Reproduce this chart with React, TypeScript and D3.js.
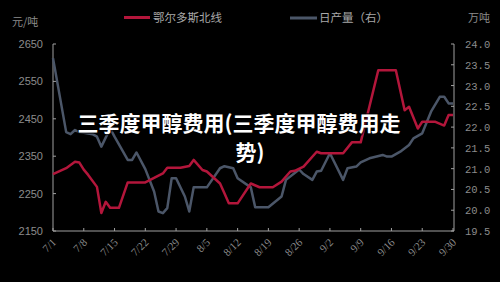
import React from "react";
import * as d3 from "d3";

// 鄂尔多斯北线 (元/吨) — key vertices of the daily series
const redDates = ["7/1","7/4","7/6","7/7","7/8","7/9","7/11","7/12","7/13","7/14","7/16","7/18","7/22","7/26","7/27","7/30","8/1","8/2","8/4","8/5","8/8","8/9","8/10","8/12","8/15","8/17","8/20","8/22","8/24","8/25","8/27","8/30","8/31","9/5","9/7","9/9","9/13","9/17","9/19","9/20","9/22","9/23","9/26","9/28","9/29","9/30"];
const redValues = [2302,2318,2335,2333,2314,2300,2268,2198,2228,2212,2212,2280,2280,2304,2319,2319,2324,2340,2313,2309,2277,2251,2224,2224,2277,2267,2267,2282,2309,2311,2322,2362,2358,2358,2387,2387,2580,2580,2473,2482,2424,2442,2442,2432,2460,2460];

// 日产量（右）(万吨)
const grayDates = ["7/1","7/4","7/5","7/6","7/7","7/10","7/11","7/12","7/14","7/15","7/18","7/19","7/20","7/22","7/24","7/25","7/26","7/27","7/28","7/29","7/31","8/1","8/2","8/5","8/8","8/9","8/11","8/12","8/15","8/16","8/19","8/22","8/23","8/26","8/27","8/29","8/30","8/31","9/2","9/5","9/6","9/8","9/9","9/11","9/14","9/15","9/16","9/18","9/20","9/21","9/23","9/25","9/27","9/28","9/29","9/30"];
const grayValues = [23.66,21.88,21.83,21.93,21.88,21.83,21.77,21.53,21.97,21.77,21.21,21.21,21.39,20.99,20.45,19.97,19.93,20.05,20.77,20.77,20.33,19.97,20.55,20.55,21.01,21.06,21.01,20.77,20.55,20.07,20.07,20.33,20.73,20.98,20.87,20.73,20.93,20.95,21.37,20.73,21.01,21.05,21.15,21.25,21.33,21.29,21.29,21.41,21.57,21.73,21.85,22.37,22.73,22.73,22.57,22.57];

const xTickLabels = ["7/1","7/8","7/15","7/22","7/29","8/5","8/12","8/19","8/26","9/2","9/9","9/16","9/23","9/30"];
const leftTicks = [2150, 2250, 2350, 2450, 2550, 2650];
const rightTicks = [19.5, 20.0, 20.5, 21.0, 21.5, 22.0, 22.5, 23.0, 23.5, 24.0];

const legendNames = ["鄂尔多斯北线", "日产量（右）"];
const titleLines = ["三季度甲醇费用(三季度甲醇费用走", "势)"];

const W = 500, H = 282;
const L = 53, R = 453, T = 44, B = 231;
const RED = "#b3163b";
const GRAY = "#4b5668";
const AXIS = "#a0a0a0";
const LABEL = "#8c8c8c";

const parse = (s: string) => {
  const [m, d] = s.split("/").map(Number);
  return new Date(2023, m - 1, d);
};

export default function App() {
  const x = d3.scaleTime().domain([parse("7/1"), parse("9/30")]).range([L, R]);
  const yL = d3.scaleLinear().domain([2150, 2650]).range([B, T]);
  const yR = d3.scaleLinear().domain([19.5, 24.0]).range([B, T]);

  const redData = redDates.map((d, i) => ({ x: parse(d), v: redValues[i] }));
  const grayData = grayDates.map((d, i) => ({ x: parse(d), v: grayValues[i] }));

  const redLine = d3.line<{ x: Date; v: number }>().x(d => x(d.x)).y(d => yL(d.v))(redData) || "";
  const grayLine = d3.line<{ x: Date; v: number }>().x(d => x(d.x)).y(d => yR(d.v))(grayData) || "";

  const cjk = "'Noto Sans CJK SC', 'Noto Sans', sans-serif";

  return (
    <svg width={W} height={H} style={{ display: "block", position: "absolute", left: 0, top: 0, background: "#000" }}>
      <rect x={0} y={0} width={W} height={H} fill="#000" />
      {/* legend */}
      <line x1={124} x2={150} y1={17.5} y2={17.5} stroke={RED} strokeWidth={3} />
      <text x={153} y={21.5} fill="#a8a8a8" fontSize={11.5} fontFamily={cjk}>{legendNames[0]}</text>
      <line x1={290} x2={317} y1={18} y2={18} stroke={GRAY} strokeWidth={3} />
      <text x={319} y={22} fill="#a8a8a8" fontSize={11.5} fontFamily={cjk}>{legendNames[1]}</text>
      {/* units */}
      <text x={12} y={26} fill={LABEL} fontSize={11} fontFamily={cjk}>元/吨</text>
      <text x={468} y={22} fill={LABEL} fontSize={11} fontFamily={cjk}>万吨</text>

      {/* axes */}
      <line x1={L} x2={L} y1={T} y2={B} stroke={AXIS} strokeWidth={1} />
      <line x1={R + 1} x2={R + 1} y1={T} y2={B} stroke={AXIS} strokeWidth={1} />
      <line x1={L} x2={R + 1} y1={B} y2={B} stroke={AXIS} strokeWidth={1} />
      {leftTicks.map(t => (
        <g key={"l" + t}>
          <line x1={L} x2={L + 3} y1={yL(t)} y2={yL(t)} stroke={AXIS} />
          <text x={43} y={yL(t) + 4} textAnchor="end" fill={LABEL} fontSize={11} fontFamily="'Liberation Sans', sans-serif">{t}</text>
        </g>
      ))}
      {rightTicks.map(t => (
        <g key={"r" + t}>
          <line x1={R + 1} x2={R - 2} y1={yR(t)} y2={yR(t)} stroke={AXIS} />
          <text x={465} y={yR(t) + 4} fill={LABEL} fontSize={10.5} fontFamily="'Liberation Mono', monospace">{t.toFixed(1)}</text>
        </g>
      ))}
      {xTickLabels.map(t => {
        const px = x(parse(t));
        return (
          <g key={"x" + t}>
            <line x1={px} x2={px} y1={B} y2={B - 3} stroke={AXIS} />
            <text transform={`translate(${px + 4},${B + 12}) rotate(-45)`} textAnchor="end" fill={LABEL} fontSize={11} fontFamily="'Liberation Serif', serif">{t}</text>
          </g>
        );
      })}

      {/* series */}
      <path d={grayLine} fill="none" stroke={GRAY} strokeWidth={2.5} strokeLinejoin="round" />
      <path d={redLine} fill="none" stroke={RED} strokeWidth={2.5} strokeLinejoin="round" />

      {/* title overlay */}
      <g fontFamily={cjk} fontWeight="bold" fontSize={21} fill="#fff" style={{ paintOrder: "stroke" }} stroke="#000" strokeWidth={3} strokeOpacity={0.6}>
        <text x={239} y={131} textAnchor="middle">{titleLines[0]}</text>
        <text x={250} y={160} textAnchor="middle">{titleLines[1]}</text>
      </g>
    </svg>
  );
}
